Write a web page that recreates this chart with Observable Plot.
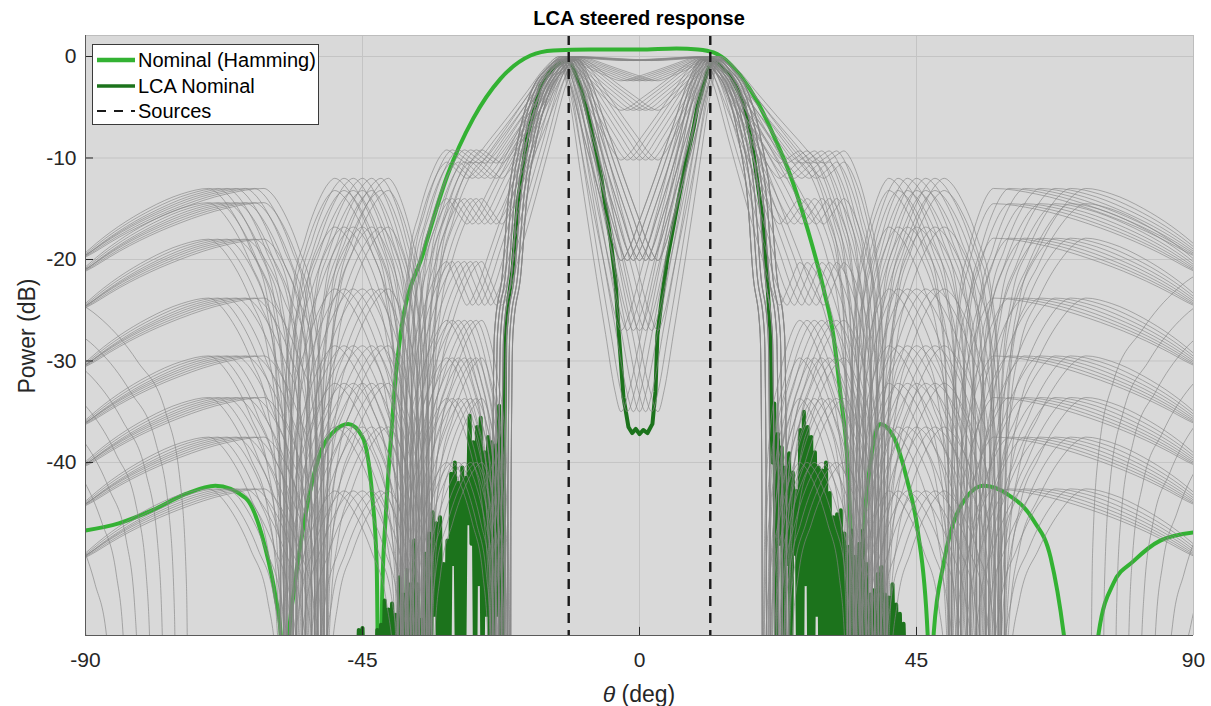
<!DOCTYPE html>
<html>
<head>
<meta charset="utf-8">
<script src="https://cdn.jsdelivr.net/npm/d3@7"></script>
<script src="https://cdn.jsdelivr.net/npm/@observablehq/plot@0.6"></script>
<style>
  body { margin: 0; background: #ffffff; font-family: "Liberation Sans", Arial, Helvetica, sans-serif; }
  #wrap { position: relative; width: 1211px; height: 706px; overflow: hidden; }
  #title { margin-left: 85px; width: 1108px; height: 34px; line-height: 36px; text-align: center;
           font-weight: bold; font-size: 20px; color: #000; }
  #chart svg { display: block; }
  #xlabel { margin-left: 85px; width: 1108px; text-align: center; font-size: 23px; color: #262626;
            line-height: 26px; margin-top: 2px; }
  #ylabel { position: absolute; left: 27px; top: 336px; transform: translate(-50%, -50%) rotate(-90deg);
            white-space: nowrap; font-size: 23px; color: #262626; }
  #legend { position: absolute; left: 92px; top: 44px; width: 227px; height: 81px; background: #fff;
            border: 1px solid #3a3a3a; box-sizing: border-box; font-size: 20px; color: #000; }
  #legend .row { position: absolute; left: 4px; height: 26px; display: flex; align-items: center; white-space: nowrap; }
  #legend svg { width: 38px; height: 10px; margin-right: 3px; flex: none; }
</style>
</head>
<body>
<div id="wrap">
  <div id="title">LCA steered response</div>
  <div id="chart"></div>
  <div id="xlabel"><i>θ</i> (deg)</div>
  <div id="ylabel">Power (dB)</div>
  <div id="legend">
    <div class="row" style="top:2px"><svg><line x1="0" y1="5" x2="38" y2="5" stroke="#33b233" stroke-width="4.5"/></svg>Nominal (Hamming)</div>
    <div class="row" style="top:28px"><svg><line x1="0" y1="5" x2="38" y2="5" stroke="#1c731c" stroke-width="3.5"/></svg>LCA Nominal</div>
    <div class="row" style="top:53px"><svg><line x1="0" y1="5" x2="38" y2="5" stroke="#1a1a1a" stroke-width="2.2" stroke-dasharray="9,8"/></svg>Sources</div>
  </div>
</div>
<script>
// ---------- axes ----------
const xTicks = [-90, -45, 0, 45, 90];
const yTicks = [0, -10, -20, -30, -40];
const xDomain = [-90, 90];
const yDomain = [-57.05, 2.07];
const sources = [-11.5, 11.5];

// ---------- Nominal (Hamming) response, [deg, dB] ----------
const hamming = [
  [-90,-46.7],[-84.6,-46],[-79.1,-44.7],[-73.7,-43.1],[-68.9,-42.3],[-64,-43.5],[-60.8,-48.4],
  [-59.1,-53.3],[-58.3,-56.8],[-57.6,-75],[-56.9,-56.8],[-56.2,-53],[-54.7,-46.7],[-52.1,-39.5],
  [-49.4,-36.8],[-47.3,-36.2],[-45,-37.5],[-43.4,-43.4],[-42.7,-50],[-42.2,-75],[-41.8,-53],
  [-41.2,-45],[-40.3,-37],[-39.6,-31.5],[-38.8,-27.3],[-35.1,-19.3],[-31.2,-11.7],[-27,-6.1],
  [-22.6,-2.2],[-17.7,0.1],[-14,0.6],[-8,0.7],[0,0.7],[6,0.8],[9.5,0.7],[12,0.4],[14.5,-0.6],
  [16.4,-1.9],[19.2,-4.5],[21.8,-7.8],[24.5,-11.7],[27.3,-17],[29.9,-22.9],[31.5,-27.5],
  [32.7,-33.6],[33.8,-40.1],[34.3,-46.7],[34.8,-56.8],[35.2,-75],[35.6,-56.8],[36.4,-46.7],
  [37.5,-40.1],[39.1,-36.2],[41.3,-37.5],[43.5,-41.8],[45.2,-46.7],[46.8,-56.8],[47.3,-75],
  [47.8,-56.8],[49.4,-50],[52.1,-44.4],[55.9,-42.3],[59.7,-43.1],[64,-45.7],[66.8,-49.4],
  [68.9,-56.8],[71.8,-75],[74.6,-56.8],[77,-51.9],[80.3,-49.7],[84.6,-47.7],[90,-46.9]
];

// ---------- LCA Nominal: main beams [deg, dB] ----------
const lcaMain = [
  [-22.2,-62],[-22.0,-40],[-21.8,-27.5],[-21.3,-24],[-20.6,-20.9],[-19.8,-14.4],[-18.2,-7.8],
  [-16.1,-2.9],[-14.2,-1.2],[-12.8,-0.6],[-11.8,-0.35],[-11,-0.8],[-9.6,-2.9],[-8.5,-5.5],
  [-7.2,-8.8],[-6.2,-12],[-4.7,-18.1],[-3.9,-22],[-3.4,-27],[-2.6,-33.6],[-1.8,-36.5],
  [-1.2,-37.1],[-0.6,-36.7],[0,-37.2],[0.6,-36.8],[1.3,-37.1],[2.1,-36.2],[2.6,-33],[2.9,-27.5],
  [3.6,-24],[4.5,-20],[6.2,-14.5],[7.5,-10.5],[8.8,-7],[9.4,-5],[11,-1.5],[11.8,-0.3],
  [12.5,-0.5],[14.8,-1.9],[16.9,-4.5],[18.5,-9.5],[20,-16],[20.8,-22.6],[21.3,-27.5],
  [21.4,-34],[21.6,-40]
];
// LCA residual sidelobe "noise": spike tops and troughs (dB) on a 0.3 deg grid
const lcaLeftStart = -46.8, lcaRightStart = 21.9, lcaStep = 0.3;
const lcaLeftPeaks = [-57.5,-57.5,-56.5,-56.3,-57.5,-57.5,-57.5,-56.5,-56,-53.6,-54.5,-53.9,-55,-51.3,
  -53,-50.6,-52,-47.7,-52,-55.5,-49,-47,-44.9,-46,-45.4,-50,-47.7,-41.1,-40,-42,-40.5,-41.5,-35.4,
  -38,-36.5,-35.6,-39,-37.5,-38,-38.3,-34.4];
const lcaLeftTroughs = [-62,-62,-62,-62,-62,-62,-62,-62,-62,-62,-62,-62,-62,-62,-62,-62,-62,-62,-62,-62,
  -60,-62,-55,-62,-60,-62,-62,-50,-58,-62,-62,-46,-48,-62,-52,-62,-55,-62,-62,-55,-62];
const lcaRightPeaks = [-34.2,-37.2,-38.5,-40.5,-39.1,-41,-42.8,-36.8,-35,-36.5,-37.5,-39,-40.5,-40.8,
  -40,-43,-45.4,-45.1,-44.7,-47,-48.3,-46.7,-49.3,-48,-46.7,-50,-53,-52.6,-51,-50.3,-53,-53.3,-52,
  -54,-54.9,-55.9,-58];
const lcaRightTroughs = [-60,-48,-62,-50,-62,-49,-62,-62,-52,-62,-62,-55,-62,-62,-62,-62,-62,-62,-62,
  -62,-62,-62,-62,-62,-62,-62,-62,-62,-62,-62,-62,-62,-62,-62,-62,-62];

// ---------- Perturbed responses (gray) ----------
// lobe shapes read from the plotted sidelobes / beams (fraction of half-width from null, dB below top)
const lobeFrac = [0, 0.03, 0.08, 0.2, 0.43, 0.71, 0.87, 1];
const lobeDb   = [-80, -28, -18, -11, -6, -2, -0.55, 0];
const beamFrac = [0, 0.01, 0.04, 0.16, 0.235, 0.39, 0.6, 0.8, 1];
const beamDb   = [-80, -45, -27, -20.9, -14.4, -7.8, -2.9, -1, 0];
const notchFrac  = [0, 0.15, 0.35, 0.55, 0.75, 0.9, 1];
const notchDepth = [0, 0.1, 0.33, 0.56, 0.78, 0.94, 1];
// levels (dB) of each family row, per sidelobe region
const levL66 = [-13, -14.4, -18, -23.8, -29.5, -33.6, -37.5, -42.6];
const levL45 = [-12, -13.2, -16.8, -22.9, -28.5, -32.2, -36.5, -42.8];
const levL28 = [-9.2, -10.4, -14, -20.2, -26, -29.7, -33.7, -40];
const levR28 = [-9.3, -10.4, -14, -20.3, -26, -29.7, -33.7, -40];
const levR45 = [-12, -13.2, -16.8, -22.9, -28.5, -32.2, -36.5, -42.8];
const levR65 = [-13, -14.5, -17.9, -23.8, -29.5, -33.6, -37.5, -42.6];
const shoulderDb = [-10.5, -12, -16.5, -24.5, -80, -80, -80, -80];  // fill of first null beside the beams
const notchDb = [-0.4, -2.4, -5.3, -10.2, -20.1, -20.1, -27, -35];  // fill of the null between sources
const beamTop = [0, 0, -0.1, -0.2, -0.25, -0.3, -0.3, -0.35];
// lobe peak / null angles (deg) for each steering offset
const nullL0 = [-104, -104.5, -105, -106, -107, -107.5, -108];
const peakL66 = [-70, -68.5, -67, -65.5, -64, -62.5, -61];
const nullL1 = [-58, -57, -56, -54.5, -53, -52, -51];
const peakL45 = [-49.5, -48, -46.5, -45, -43.5, -42, -40.8];
const nullL2 = [-39, -38.2, -37.4, -36.5, -35.6, -34.8, -34];
const peakL28 = [-31.3, -30.4, -29.4, -28.4, -27.4, -26.5, -25.6];
const shoulderL = [-28.1, -27.2, -26.2, -25.2, -24.2, -23.3, -22.4];
const nullL3 = [-24, -23.5, -23, -22.5, -22, -21.5, -21];
const beamL = [-13, -12.5, -12, -11.5, -11, -10.5, -10];
const notchX = [-3, -2, -1, 0, 1, 2, 3];
const beamR = [10, 10.5, 11, 11.5, 12, 12.5, 13];
const nullR3 = [20, 20.7, 21.3, 22, 22.7, 23.3, 24];
const shoulderR = [22.8, 24, 25.2, 26.4, 27.6, 28.8, 30];
const peakR28 = [26, 27.2, 28.4, 29.6, 30.8, 32, 33.2];
const nullR2 = [34, 35, 36, 37, 38, 39, 40];
const peakR45 = [40.5, 42, 43.5, 45, 46.5, 48, 49.5];
const nullR1 = [50.5, 52, 53.5, 55, 56.5, 58, 59];
const peakR65 = [57.5, 60, 62.5, 65, 67.5, 70, 72.5];
const nullR0 = [111, 110, 109, 108, 107, 106, 105];
// end-fire lobes entering at the plot edges: null angle and level
const edgeLeftNull = [-87, -85, -83, -81, -79, -77, -75, -73];
const edgeLeftDb = [-52, -46, -40, -36.6, -33.2, -30, -27, -24];
const edgeRightNull = [87, 85, 83, 81, 79, 77, 75, 73];
const edgeRightDb = [-50, -45, -39, -35, -31, -27, -24, -21];

// ---------- build line tables ----------
function riseHalf(xL, xP, top) { return lobeFrac.map((f, i) => [xL + f * (xP - xL), top + lobeDb[i]]); }
function fallHalf(xP, xR, top) { return lobeFrac.map((f, i) => [xR + f * (xP - xR), top + lobeDb[i]]).reverse(); }
function lobe(xL, xP, xR, top) { return riseHalf(xL, xP, top).concat(fallHalf(xP, xR, top)); }
function beamRise(x0, xP, top) { return beamFrac.map((f, i) => [x0 + f * (xP - x0), top + beamDb[i]]); }
function beamFall(xP, x1, top) { return beamFrac.map((f, i) => [x1 + f * (xP - x1), top + beamDb[i]]).reverse(); }
function dip(xA, xB, xC, topA, topC, c) {
  const out = [];
  for (let i = 0; i < notchFrac.length; i++) out.push([xA + notchFrac[i] * (xB - xA), topA + notchDepth[i] * (c - topA)]);
  for (let i = notchFrac.length - 2; i >= 0; i--) out.push([xC + notchFrac[i] * (xB - xC), topC + notchDepth[i] * (c - topC)]);
  return out;
}
function join(parts) {
  const out = [];
  for (const p of parts) for (const q of p) {
    const last = out[out.length - 1];
    if (last && Math.abs(last[0] - q[0]) < 1e-9) continue;
    out.push(q);
  }
  return out;
}

const gray = [];
let gid = 0;
for (let k = 0; k < notchDb.length; k++) {
  for (let s = 0; s < beamL.length; s++) {
    const t = beamTop[k];
    const deep = shoulderDb[k] <= -60;
    const leftShoulder = deep
      ? [lobe(nullL2[s], peakL28[s], nullL3[s], levL28[k]), beamRise(nullL3[s], beamL[s], t)]
      : [riseHalf(nullL2[s], peakL28[s], levL28[k]), dip(peakL28[s], shoulderL[s], beamL[s], levL28[k], t, shoulderDb[k])];
    const rightShoulder = deep
      ? [beamFall(beamR[s], nullR3[s], t), lobe(nullR3[s], peakR28[s], nullR2[s], levR28[k])]
      : [dip(beamR[s], shoulderR[s], peakR28[s], t, levR28[k], shoulderDb[k]), fallHalf(peakR28[s], nullR2[s], levR28[k])];
    const pts = join([
      lobe(nullL0[s], peakL66[s], nullL1[s], levL66[k]),
      lobe(nullL1[s], peakL45[s], nullL2[s], levL45[k]),
      ...leftShoulder,
      dip(beamL[s], notchX[s], beamR[s], t, t, notchDb[k]),
      ...rightShoulder,
      lobe(nullR2[s], peakR45[s], nullR1[s], levR45[k]),
      lobe(nullR1[s], peakR65[s], nullR0[s], levR65[k])
    ]);
    for (const [x, y] of pts) gray.push({id: gid, x, y});
    gid++;
  }
}
edgeLeftNull.forEach((n, i) => { for (const [x, y] of lobe(-112, -93, n, edgeLeftDb[i])) gray.push({id: gid, x, y}); gid++; });
edgeRightNull.forEach((n, i) => { for (const [x, y] of lobe(n, 93, 112, edgeRightDb[i])) gray.push({id: gid, x, y}); gid++; });

const lca = [];
lcaLeftPeaks.forEach((p, i) => {
  lca.push({x: lcaLeftStart + lcaStep * (2 * i), y: p});
  lca.push({x: lcaLeftStart + lcaStep * (2 * i + 1), y: lcaLeftTroughs[i]});
});
lcaMain.forEach(([x, y]) => lca.push({x, y}));
lcaRightPeaks.forEach((p, i) => {
  lca.push({x: lcaRightStart + lcaStep * (2 * i), y: p});
  if (i < lcaRightTroughs.length) lca.push({x: lcaRightStart + lcaStep * (2 * i + 1), y: lcaRightTroughs[i]});
});

const chart = Plot.plot({
  width: 1211,
  height: 645,
  marginLeft: 85,
  marginRight: 18,
  marginTop: 1,
  marginBottom: 44,
  style: {fontFamily: '"Liberation Sans", Arial, Helvetica, sans-serif', color: "#262626", background: "transparent", overflow: "visible"},
  x: {domain: xDomain},
  y: {domain: yDomain},
  marks: [
    Plot.frame({fill: "#d9d9d9", stroke: null}),
    Plot.ruleX(xTicks, {stroke: "#c4c4c4", strokeWidth: 1}),
    Plot.ruleY(yTicks, {stroke: "#c4c4c4", strokeWidth: 1}),
    Plot.line(hamming, {x: d => d[0], y: d => d[1], stroke: "#33b233", strokeWidth: 4, curve: "monotone-x", clip: true}),
    Plot.line(lca, {x: "x", y: "y", stroke: "#1c731c", strokeWidth: 4, strokeLinejoin: "round", clip: true}),
    Plot.line(gray, {x: "x", y: "y", z: "id", stroke: "#858585", strokeWidth: 0.9, strokeOpacity: 0.72, curve: "monotone-x", clip: true}),
    Plot.ruleX(sources, {stroke: "#1a1a1a", strokeWidth: 2.4, strokeDasharray: "10,7"}),
    Plot.ruleX(xTicks, {y1: yDomain[0], y2: yDomain[0] + 0.8, stroke: "#262626"}),
    Plot.ruleY(yTicks, {x1: xDomain[0], x2: xDomain[0] + 1.3, stroke: "#262626"}),
    Plot.ruleX([xDomain[1]], {stroke: "#bdbdbd"}),
    Plot.ruleY([yDomain[1]], {stroke: "#bdbdbd"}),
    Plot.ruleX([xDomain[0]], {stroke: "#5a5a5a"}),
    Plot.ruleY([yDomain[0]], {stroke: "#5a5a5a"}),
    Plot.axisX({ticks: xTicks, tickSize: 0, tickPadding: 17, fontSize: 21, label: null, tickFormat: d => String(d)}),
    Plot.axisY({ticks: yTicks, tickSize: 0, tickPadding: 9, fontSize: 21, label: null, tickFormat: d => String(d)})
  ]
});
document.getElementById("chart").appendChild(chart);
</script>
</body>
</html>
